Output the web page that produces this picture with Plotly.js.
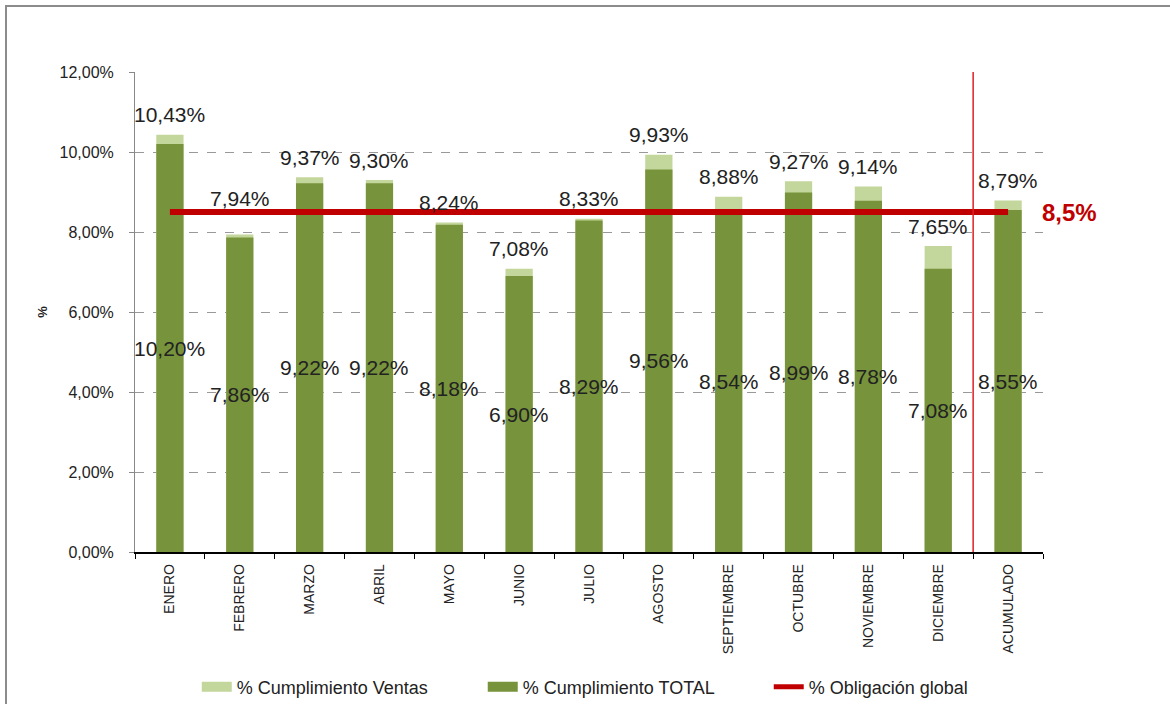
<!DOCTYPE html>
<html>
<head>
<meta charset="utf-8">
<script src="https://cdn.plot.ly/plotly-3.0.1.min.js"></script>
<style>
  html, body { margin: 0; padding: 0; background: #fff; }
  #wrap { position: relative; width: 1170px; height: 704px; overflow: hidden; }
  #chart { width: 1170px; height: 704px; }
  #frame { position: absolute; left: 5px; top: 5px; width: 1180px; height: 720px;
           border-left: 2px solid #8c8c8c; border-top: 2px solid #8c8c8c; pointer-events: none; }
</style>
</head>
<body>
<div id="wrap">
  <div id="chart"></div>
  <div id="frame"></div>
</div>
<script>
// ---- data ----
const categories = ["ENERO", "FEBRERO", "MARZO", "ABRIL", "MAYO", "JUNIO", "JULIO",
                    "AGOSTO", "SEPTIEMBRE", "OCTUBRE", "NOVIEMBRE", "DICIEMBRE", "ACUMULADO"];
const cumplimientoVentas = [10.43, 7.94, 9.37, 9.30, 8.24, 7.08, 8.33, 9.93, 8.88, 9.27, 9.14, 7.65, 8.79];
const cumplimientoTotal  = [10.20, 7.86, 9.22, 9.22, 8.18, 6.90, 8.29, 9.56, 8.54, 8.99, 8.78, 7.08, 8.55];
const obligacionGlobal   = [8.5, 8.5, 8.5, 8.5, 8.5, 8.5, 8.5, 8.5, 8.5, 8.5, 8.5, 8.5, 8.5];
const seriesNames = ["% Cumplimiento Ventas", "% Cumplimiento TOTAL", "% Obligación global"];
const obligacionLabel = "8,5%";
const yTicks = [0, 2, 4, 6, 8, 10, 12];

// ---- styles ----
const LIGHT = "#C3D69B";
const DARK = "#77933C";
const RED = "#C00000";
const FONT = "Liberation Sans, Arial, sans-serif";
const fmt = v => v.toFixed(2).replace(".", ",") + "%";
const labelLift = { FEBRERO: 36 };  // label placement tweak (px)

const traces = [
  { type: "bar", x: categories, y: cumplimientoVentas, marker: { color: LIGHT },
    showlegend: false, hoverinfo: "skip" },
  { type: "bar", x: categories, y: cumplimientoTotal, marker: { color: DARK },
    showlegend: false, hoverinfo: "skip" },
  { type: "scatter", mode: "lines", x: categories, y: obligacionGlobal,
    line: { color: RED, width: 6 }, showlegend: false, hoverinfo: "skip" },
  // legend entries
  { type: "scatter", mode: "lines", x: [null], y: [null], name: seriesNames[0],
    line: { color: LIGHT, width: 11 } },
  { type: "scatter", mode: "lines", x: [null], y: [null], name: seriesNames[1],
    line: { color: DARK, width: 11 } },
  { type: "scatter", mode: "lines", x: [null], y: [null], name: seriesNames[2],
    line: { color: RED, width: 5 } }
];

const annotations = [];
categories.forEach((c, i) => {
  annotations.push({ x: c, y: cumplimientoVentas[i], text: fmt(cumplimientoVentas[i]),
    showarrow: false, yanchor: "middle", yshift: labelLift[c] || 20,
    font: { family: FONT, size: 21, color: "#222" } });
  annotations.push({ x: c, y: cumplimientoTotal[i] / 2, text: fmt(cumplimientoTotal[i]),
    showarrow: false, yanchor: "middle",
    font: { family: FONT, size: 21, color: "#222" } });
});
annotations.push({ x: categories[categories.length - 1], y: obligacionGlobal[obligacionGlobal.length - 1],
  text: "<b>" + obligacionLabel + "</b>", showarrow: false, xanchor: "left", yanchor: "middle",
  xshift: 32, font: { family: FONT, size: 24, color: RED } });

const layout = {
  width: 1170, height: 704,
  margin: { l: 135, r: 127, t: 72, b: 152, autoexpand: false },
  paper_bgcolor: "#fff", plot_bgcolor: "#fff",
  barmode: "overlay", bargap: 0.61,
  separators: ", ",
  font: { family: FONT, color: "#222" },
  showlegend: true,
  legend: { orientation: "h", x: 0.068, xanchor: "left", y: -0.243, yanchor: "top",
            entrywidth: 241, entrywidthmode: "pixels",
            font: { family: "Liberation Sans Narrow, Arial Narrow, " + FONT, size: 18, color: "#222" } },
  xaxis: {
    type: "category", range: [-0.5, 12.5], fixedrange: true, automargin: false,
    showline: true, linecolor: "#000", linewidth: 1.5,
    ticks: "outside", tickson: "boundaries", ticklen: 5, tickcolor: "#000", tickwidth: 1,
    ticklabelstandoff: 5,
    tickangle: -90, tickfont: { family: FONT, size: 14, color: "#222" },
    showgrid: false, zeroline: false
  },
  yaxis: {
    range: [0, 12], tickmode: "array", tickvals: yTicks, ticktext: yTicks.map(fmt),
    automargin: false,
    showline: true, linecolor: "#888", linewidth: 1,
    ticks: "outside", ticklen: 5, tickcolor: "#888", ticklabelstandoff: 12,
    tickfont: { family: FONT, size: 16, color: "#222" },
    showgrid: true, gridcolor: "#999", griddash: "dash", gridwidth: 1,
    zeroline: false,
    title: { text: "<b>%</b>", standoff: 8, font: { family: FONT, size: 13, color: "#222" } }
  },
  shapes: [
    { type: "line", xref: "x", yref: "y", x0: 11.5, x1: 11.5, y0: 0, y1: 12,
      line: { color: "#E02020", width: 1.5 } }
  ],
  annotations: annotations
};

Plotly.newPlot("chart", traces, layout, { displayModeBar: false, staticPlot: true });
</script>
</body>
</html>
